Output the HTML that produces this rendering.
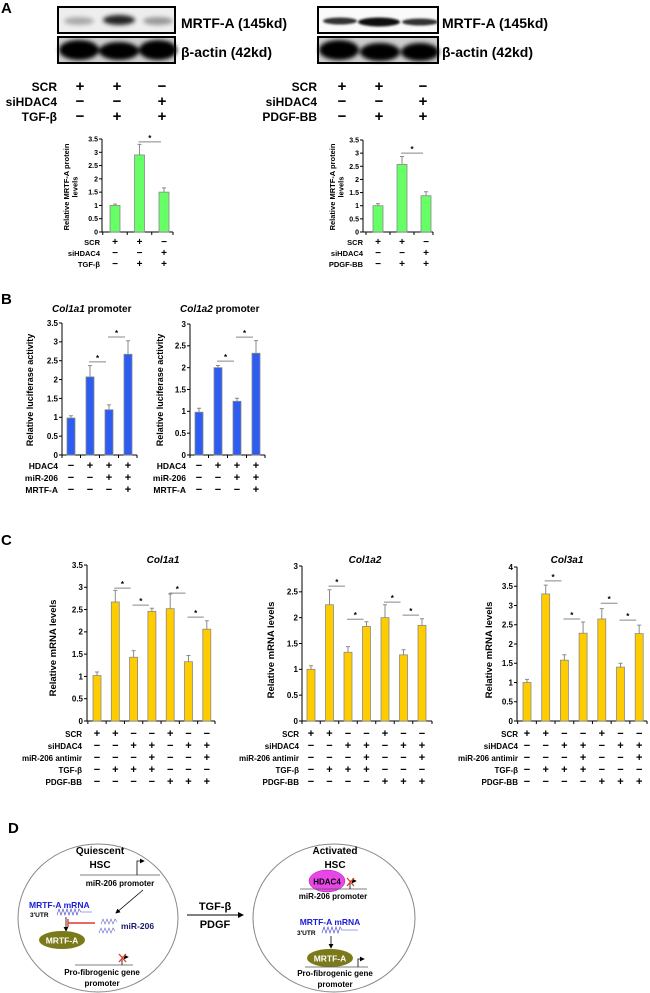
<!DOCTYPE html>
<html><head><meta charset="utf-8"><style>
html,body{margin:0;padding:0;background:#fff;}
svg{display:block;font-family:"Liberation Sans",Arial,sans-serif;font-weight:bold;}
</style></head><body>
<svg id="fig" width="650" height="993" viewBox="0 0 650 993" xmlns="http://www.w3.org/2000/svg">
<defs>
<filter id="blur2" x="-30%" y="-50%" width="160%" height="200%"><feGaussianBlur stdDeviation="2"/></filter>
<filter id="blur1" x="-30%" y="-50%" width="160%" height="200%"><feGaussianBlur stdDeviation="1.1"/></filter>
<marker id="ah" markerWidth="6" markerHeight="6" refX="5" refY="3" orient="auto"><path d="M0,0 L6,3 L0,6 z" fill="#000"/></marker>
</defs>

<text x="1" y="13" font-size="15">A</text>
<text x="1" y="304" font-size="15">B</text>
<text x="1" y="545" font-size="15">C</text>
<text x="8" y="833" font-size="15">D</text>

<g>
<rect x="58" y="7" width="117" height="26" fill="#eee" stroke="#000" stroke-width="2"/>
<g filter="url(#blur2)">
<ellipse cx="79" cy="21" rx="15" ry="4" fill="#aaa"/>
<ellipse cx="119" cy="20" rx="16" ry="5" fill="#222"/>
<ellipse cx="158" cy="21" rx="15" ry="4" fill="#999"/>
</g>
<rect x="58" y="37" width="117" height="26" fill="#ccc" stroke="#000" stroke-width="2"/>
<g filter="url(#blur2)">
<ellipse cx="79" cy="50" rx="20" ry="10" fill="#000"/>
<ellipse cx="119" cy="51" rx="20" ry="9" fill="#000"/>
<ellipse cx="158" cy="50" rx="19" ry="10" fill="#000"/>
</g>
<rect x="58" y="37" width="117" height="26" fill="none" stroke="#000" stroke-width="2"/>
<text x="181" y="28" font-size="14">MRTF-A (145kd)</text>
<text x="181" y="57" font-size="14">β-actin (42kd)</text>
</g>
<g>
<rect x="318" y="7" width="120" height="26" fill="#fafafa" stroke="#000" stroke-width="2"/>
<g filter="url(#blur1)">
<ellipse cx="340" cy="21" rx="17" ry="3.5" fill="#333"/>
<ellipse cx="379" cy="22" rx="21" ry="4.5" fill="#111"/>
<ellipse cx="420" cy="22" rx="18" ry="3.5" fill="#333"/>
</g>
<rect x="318" y="37" width="120" height="26" fill="#ccc" stroke="#000" stroke-width="2"/>
<g filter="url(#blur2)">
<ellipse cx="339" cy="50" rx="20" ry="10" fill="#000"/>
<ellipse cx="380" cy="52" rx="20" ry="9" fill="#000"/>
<ellipse cx="420" cy="52" rx="19" ry="9" fill="#000"/>
</g>
<rect x="318" y="37" width="120" height="26" fill="none" stroke="#000" stroke-width="2"/>
<text x="442" y="28" font-size="14">MRTF-A (145kd)</text>
<text x="442" y="57" font-size="14">β-actin (42kd)</text>
</g>

<text x="52" y="312" font-size="10"><tspan font-style="italic">Col1a1</tspan>  promoter</text>
<text x="180" y="312" font-size="10"><tspan font-style="italic">Col1a2</tspan> promoter</text>
<text x="163" y="563" font-size="10" font-style="italic" text-anchor="middle">Col1a1</text>
<text x="365" y="563" font-size="10" font-style="italic" text-anchor="middle">Col1a2</text>
<text x="567" y="563" font-size="10" font-style="italic" text-anchor="middle">Col3a1</text>

<g id="charts"></g>

<g>
<ellipse cx="98" cy="918" rx="80" ry="74" fill="none" stroke="#888" stroke-width="1"/>
<text x="100" y="854" font-size="10" text-anchor="middle">Quiescent</text>
<text x="100" y="868" font-size="10" text-anchor="middle">HSC</text>
<line x1="80" y1="875" x2="160" y2="875" stroke="#555" stroke-width="0.8"/>
<polyline points="137,875 137,861 144,861" fill="none" stroke="#000" stroke-width="0.8" marker-end="url(#ah)"/>
<text x="120" y="886" font-size="8" text-anchor="middle">miR-206 promoter</text>
<line x1="143" y1="890" x2="116" y2="913" stroke="#000" stroke-width="0.8" marker-end="url(#ah)"/>
<text x="29" y="908" font-size="8.5" fill="#1a1ad8">MRTF-A mRNA</text>
<text x="30" y="917" font-size="6.5">3'UTR</text>
<polyline points="57,915 59,909 61,915 63,909 65,915 67,909 69,915 71,909 73,915 75,909 77,915 79,909 81,912 92,912" fill="none" stroke="#4444cc" stroke-width="0.6"/>
<line x1="66" y1="917" x2="66" y2="931" stroke="#000" stroke-width="0.8" marker-end="url(#ah)"/>
<line x1="68" y1="923" x2="95" y2="923" stroke="#e03a2a" stroke-width="1.4"/>
<line x1="68" y1="919" x2="68" y2="927" stroke="#e03a2a" stroke-width="1.4"/>
<polyline points="101,924 103,919 105,924 107,919 109,924 111,919 113,924 115,919 117,922" fill="none" stroke="#6666cc" stroke-width="0.6"/>
<polyline points="99,933 101,928 103,933 105,928 107,933 109,928 111,933 113,928 115,931" fill="none" stroke="#6666cc" stroke-width="0.6"/>
<text x="121" y="929" font-size="8.5" fill="#1a1a66">miR-206</text>
<ellipse cx="62" cy="940" rx="23" ry="9" fill="#7a7a1a"/>
<text x="62" y="943.5" font-size="8.5" fill="#fff" text-anchor="middle">MRTF-A</text>
<line x1="75" y1="965" x2="133" y2="965" stroke="#555" stroke-width="0.8"/>
<polyline points="122,965 122,957 128,957" fill="none" stroke="#000" stroke-width="0.8" marker-end="url(#ah)"/>
<path d="M119,954 L126,962 M126,954 L119,962" stroke="#e03a2a" stroke-width="1.3"/>
<text x="102" y="975" font-size="8" text-anchor="middle">Pro-fibrogenic gene</text>
<text x="102" y="986" font-size="8" text-anchor="middle">promoter</text>

<line x1="187" y1="915" x2="243" y2="915" stroke="#000" stroke-width="1" marker-end="url(#ah)"/>
<text x="215" y="910" font-size="11" text-anchor="middle">TGF-β</text>
<text x="215" y="928" font-size="11" text-anchor="middle">PDGF</text>

<ellipse cx="334" cy="918" rx="81" ry="74" fill="none" stroke="#888" stroke-width="1"/>
<text x="335" y="854" font-size="10" text-anchor="middle">Activated</text>
<text x="335" y="868" font-size="10" text-anchor="middle">HSC</text>
<ellipse cx="327" cy="881" rx="18" ry="11" fill="#e846e8" stroke="#a020a0" stroke-width="0.5"/>
<text x="327" y="884.5" font-size="8" text-anchor="middle">HDAC4</text>
<line x1="300" y1="889" x2="367" y2="889" stroke="#555" stroke-width="0.8"/>
<polyline points="350,889 350,881 356,881" fill="none" stroke="#000" stroke-width="0.8" marker-end="url(#ah)"/>
<path d="M347,878 L354,886 M354,878 L347,886" stroke="#e03a2a" stroke-width="1.3"/>
<text x="333" y="899" font-size="8" text-anchor="middle">miR-206 promoter</text>
<text x="330" y="925" font-size="8.5" fill="#1a1ad8" text-anchor="middle">MRTF-A mRNA</text>
<text x="297" y="935" font-size="6.5">3'UTR</text>
<polyline points="322,933 324,927 326,933 328,927 330,933 332,927 334,933 336,927 338,933 340,927 342,930 358,930" fill="none" stroke="#4444cc" stroke-width="0.6"/>
<line x1="331" y1="936" x2="331" y2="948" stroke="#000" stroke-width="0.8" marker-end="url(#ah)"/>
<ellipse cx="330" cy="958" rx="23" ry="9" fill="#7a7a1a"/>
<text x="330" y="961.5" font-size="8.5" fill="#fff" text-anchor="middle">MRTF-A</text>
<line x1="305" y1="967" x2="368" y2="967" stroke="#555" stroke-width="0.8"/>
<polyline points="358,967 358,959 364,959" fill="none" stroke="#000" stroke-width="0.8" marker-end="url(#ah)"/>
<text x="335" y="976" font-size="8" text-anchor="middle">Pro-fibrogenic gene</text>
<text x="335" y="987" font-size="8" text-anchor="middle">promoter</text>
</g>
</svg>

<script>
// ---------- DATA ----------
const aTableLeftLabels = ["SCR","siHDAC4","TGF-β"];
const aTableRightLabels = ["SCR","siHDAC4","PDGF-BB"];
const aTableSigns = [["+","+","−"],["−","−","+"],["−","+","+"]];
const aLeftValues = [1.0, 2.9, 1.5];
const aLeftErrors = [0.05, 0.4, 0.16];
const aLeftSig = [[1,2,3.39]];
const aRightValues = [1.0, 2.57, 1.38];
const aRightErrors = [0.08, 0.3, 0.15];
const aRightSig = [[1,2,3.0]];
const aTicks = ["0","0.5","1","1.5","2","2.5","3","3.5"];
const bLabels = ["HDAC4","miR-206","MRTF-A"];
const bSigns = [["−","+","+","+"],["−","−","+","+"],["−","−","−","+"]];
const bLeftValues = [0.98, 2.07, 1.2, 2.67];
const bLeftErrors = [0.06, 0.3, 0.13, 0.36];
const bLeftSig = [[1,2,2.47],[2,3,3.13]];
const bLeftTicks = ["0","0.5","1","1.5","2","2.5","3","3.5"];
const bRightValues = [0.98, 2.0, 1.23, 2.33];
const bRightErrors = [0.09, 0.05, 0.07, 0.29];
const bRightSig = [[1,2,2.15],[2,3,2.70]];
const bRightTicks = ["0","0.5","1","1.5","2","2.5","3"];
const cLabels = ["SCR","siHDAC4","miR-206 antimir","TGF-β","PDGF-BB"];
const cSigns = [["+","+","−","−","+","−","−"],["−","−","+","+","−","+","+"],["−","−","−","+","−","−","+"],["−","+","+","+","−","−","−"],["−","−","−","−","+","+","+"]];
const c1Values = [1.02, 2.67, 1.43, 2.46, 2.52, 1.33, 2.06];
const c1Errors = [0.08, 0.26, 0.15, 0.07, 0.33, 0.14, 0.19];
const c1Sig = [[1,2,2.98],[2,3,2.6],[4,5,2.87],[5,6,2.33]];
const c1Ticks = ["0","0.5","1","1.5","2","2.5","3","3.5"];
const c2Values = [1.0, 2.25, 1.33, 1.83, 2.0, 1.28, 1.85];
const c2Errors = [0.07, 0.29, 0.11, 0.09, 0.25, 0.1, 0.13];
const c2Sig = [[1,2,2.61],[2,3,1.97],[4,5,2.30],[5,6,2.05]];
const c2Ticks = ["0","0.5","1","1.5","2","2.5","3"];
const c3Values = [1.0, 3.3, 1.58, 2.28, 2.65, 1.4, 2.27];
const c3Errors = [0.08, 0.23, 0.14, 0.29, 0.27, 0.1, 0.22];
const c3Sig = [[1,2,3.64],[2,3,2.65],[4,5,3.06],[5,6,2.62]];
const c3Ticks = ["0","0.5","1","1.5","2","2.5","3","3.5","4"];

// ---------- DRAWING ----------
const NS = "http://www.w3.org/2000/svg";
const root = document.getElementById('charts');
function mk(tag, attrs, parent){
  const e = document.createElementNS(NS, tag);
  for (const k in attrs) e.setAttribute(k, attrs[k]);
  (parent||root).appendChild(e);
  return e;
}
function txt(s, attrs, parent){ const e = mk('text', attrs, parent); e.textContent = s; return e; }

function drawTable(g, labels, signs, labelRight, colX, rowY, lfs, sfs){
  labels.forEach((lab, r) => {
    const t = txt(lab, {x:labelRight, y:rowY[r], 'font-size':lfs, 'text-anchor':'end'}, g);
    
    
    signs[r].forEach((s, c) => {
      const st = txt(s, {x:colX[c], y:rowY[r], 'font-size':sfs, 'text-anchor':'middle'}, g);
      
      
    });
  });
}

function drawChart(o){
  const g = mk('g', {});
  
  
  const yMax = (o.ticks.length - 1) * o.step;
  const y = v => o.y0 - v / yMax * (o.y0 - o.yTop);
  const bx = i => o.x0 + i * o.dx;
  mk('line', {x1:o.ax, y1:o.y0, x2:o.ax, y2:o.yTop, stroke:'#000', 'stroke-width':1}, g);
  o.ticks.forEach((t, i) => {
    const yy = y(i * o.step);
    mk('line', {x1:o.ax-3, y1:yy, x2:o.ax, y2:yy, stroke:'#000', 'stroke-width':1}, g);
    const tl = txt(t, {x:o.ax-4, y:yy+o.fs*0.36, 'font-size':o.fs, 'text-anchor':'end'}, g);
    
    
  });
  mk('line', {x1:o.ax, y1:o.y0, x2:o.axEnd, y2:o.y0, stroke:'#000', 'stroke-width':1}, g);
  for (let i = 0; i <= o.values.length; i++){
    const xx = i === o.values.length ? o.axEnd : bx(i) - o.dx/2;
    mk('line', {x1:Math.max(xx,o.ax), y1:o.y0, x2:Math.max(xx,o.ax), y2:o.y0+3, stroke:'#000', 'stroke-width':1}, g);
  }
  o.values.forEach((v, i) => {
    const cx = bx(i);
    const r = mk('rect', {x:cx-o.bw/2, y:y(v), width:o.bw, height:o.y0-y(v), fill:o.color, stroke:'#8a8a8a', 'stroke-width':0.8}, g);
    
    
    const top = y(v + o.errors[i]);
    const el = mk('path', {d:`M${cx},${y(v)} V${top} M${cx-2},${top} H${cx+2}`, stroke:'#8a8a8a', 'stroke-width':1, fill:'none'}, g);
    
    
  });
  o.sig.forEach(s => {
    const x1 = bx(s[0]) - 1, x2 = bx(s[1]) - 3, yy = y(s[2]);
    const sl = mk('line', {x1:x1, y1:yy, x2:x2, y2:yy, stroke:'#888', 'stroke-width':1}, g);
    
    
    const st = txt('*', {x:(x1+x2)/2, y:yy-1, 'font-size':8, 'text-anchor':'middle'}, g);
    
    
  });
  o.ytitle.forEach((line, k) => {
    const tx = o.ytx + k * o.ytfs * 1.1;
    const t = txt(line, {x:tx, y:o.yty, 'font-size':o.ytfs, 'text-anchor':'middle', transform:`rotate(-90 ${tx} ${o.yty})`}, g);
    
    
  });
  if (o.labels){
    const colX = o.values.map((_, i) => bx(i) + (o.colShift||0));
    drawTable(g, o.labels, o.signs, o.labelRight, colX, o.rowY, o.lfs, o.sfs);
  }
}

(function(){
  const g1 = mk('g', {});
  
  
  drawTable(g1, aTableLeftLabels, aTableSigns, 57, [80,117,162], [91,106,121], 12, 15);
  const g2 = mk('g', {});
  
  
  drawTable(g2, aTableRightLabels, aTableSigns, 317, [342,379,423], [91,106,121], 12, 15);
})();

const greenA = '#66ff66', blue = '#2d5cf0', gold = '#ffcc00';
drawChart({name:'chart-a-tgf', ax:102, axEnd:173, y0:232, yTop:139, step:0.5, ticks:aTicks, fs:7,
  x0:115, dx:24.5, bw:10, color:greenA, values:aLeftValues, errors:aLeftErrors, sig:aLeftSig,
  ytitle:['Relative MRTF-A protein','levels'], ytx:69, yty:187, ytfs:7.5,
  labels:aTableLeftLabels, signs:aTableSigns, labelRight:100, rowY:[245,256,267], lfs:7.5, sfs:10});
drawChart({name:'chart-a-pdgf', ax:363, axEnd:433, y0:232, yTop:140, step:0.5, ticks:aTicks, fs:7,
  x0:378, dx:24, bw:10, color:greenA, values:aRightValues, errors:aRightErrors, sig:aRightSig,
  ytitle:['Relative MRTF-A protein','levels'], ytx:335, yty:187, ytfs:7.5,
  labels:aTableRightLabels, signs:aTableSigns, labelRight:363, rowY:[245,256,267], lfs:7.5, sfs:10});
drawChart({name:'chart-b-col1a1', ax:62, axEnd:137, y0:455, yTop:323, step:0.5, ticks:bLeftTicks, fs:8,
  x0:71, dx:19, bw:8, color:blue, values:bLeftValues, errors:bLeftErrors, sig:bLeftSig,
  ytitle:['Relative luciferase activity'], ytx:33, yty:390, ytfs:9,
  labels:bLabels, signs:bSigns, labelRight:58, rowY:[469,481,493], lfs:8.5, sfs:11});
drawChart({name:'chart-b-col1a2', ax:190, axEnd:265, y0:455, yTop:324, step:0.5, ticks:bRightTicks, fs:8,
  x0:199, dx:19, bw:8, color:blue, values:bRightValues, errors:bRightErrors, sig:bRightSig,
  ytitle:['Relative luciferase activity'], ytx:163, yty:390, ytfs:9,
  labels:bLabels, signs:bSigns, labelRight:186, rowY:[469,481,493], lfs:8.5, sfs:11});
drawChart({name:'chart-c-col1a1', ax:87, axEnd:215, y0:721, yTop:565, step:0.5, ticks:c1Ticks, fs:8,
  x0:97, dx:18.3, bw:8, color:gold, values:c1Values, errors:c1Errors, sig:c1Sig,
  ytitle:['Relative mRNA levels'], ytx:56, yty:648, ytfs:9.5,
  labels:cLabels, signs:cSigns, labelRight:82, rowY:[737,749,761,773,785], lfs:8, sfs:11});
drawChart({name:'chart-c-col1a2', ax:302, axEnd:432, y0:721, yTop:566, step:0.5, ticks:c2Ticks, fs:8,
  x0:311, dx:18.5, bw:8, color:gold, values:c2Values, errors:c2Errors, sig:c2Sig,
  ytitle:['Relative mRNA levels'], ytx:274, yty:650, ytfs:9.5,
  labels:cLabels, signs:cSigns, labelRight:299, rowY:[737,749,761,773,785], lfs:8, sfs:11});
drawChart({name:'chart-c-col3a1', ax:517, axEnd:647, y0:721, yTop:567, step:0.5, ticks:c3Ticks, fs:8,
  x0:527, dx:18.7, bw:8, color:gold, values:c3Values, errors:c3Errors, sig:c3Sig,
  ytitle:['Relative mRNA levels'], ytx:492, yty:650, ytfs:9.5,
  labels:cLabels, signs:cSigns, labelRight:518, rowY:[737,749,761,773,785], lfs:8, sfs:11});
</script>
</body></html>
